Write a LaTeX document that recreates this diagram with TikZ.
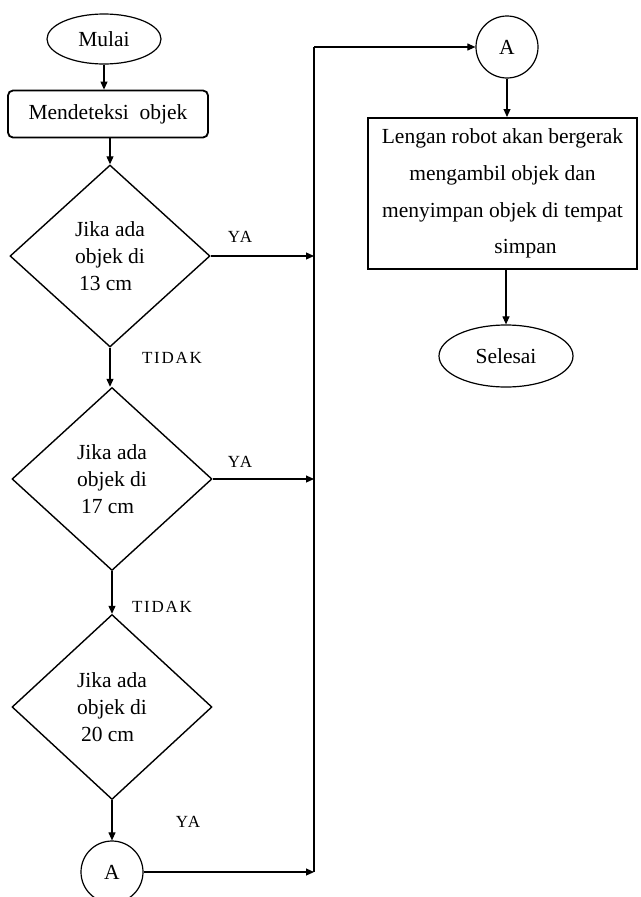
\documentclass[tikz,border=0pt]{standalone}
\usepackage{fontspec}
\setmainfont{Liberation Serif}
\usetikzlibrary{shapes.geometric,arrows.meta}
\begin{document}
\begin{tikzpicture}[x=1pt,y=-1pt,
  txt/.style={font=\fontsize{21.5}{27}\selectfont},
  term/.style={draw,ellipse,line width=1.2pt,inner sep=0pt,txt},
  procbox/.style={draw,rectangle,line width=1.8pt,inner sep=0pt,txt},
  decide/.style={draw,diamond,line width=1.4pt,inner sep=0pt,aspect=1.1,txt,align=left},
  conn/.style={draw,circle,line width=1.2pt,inner sep=0pt,minimum size=62pt,txt},
  lbl/.style={font=\fontsize{17}{20}\selectfont\addfontfeatures{LetterSpace=10}},
  arr/.style={line width=1.1pt,-{Triangle[length=8pt,width=7pt]}},
  ln/.style={line width=1.1pt}]
\useasboundingbox (0,0) rectangle (640,897);
\node[term,minimum width=114pt,minimum height=50pt] (mulai) at (104,39) {Mulai};
\node[procbox,rounded corners=5pt,minimum width=200pt,minimum height=47pt] (detect) at (108,114) {Mendeteksi\ \ objek};
\node[decide,minimum width=200pt,minimum height=182pt] (d1) at (110,256) {Jika ada\\objek di\\\hspace*{4pt}13 cm};
\node[decide,minimum width=200pt,minimum height=183pt] (d2) at (112,479) {Jika ada\\objek di\\\hspace*{4pt}17 cm};
\node[decide,minimum width=200pt,minimum height=185pt] (d3) at (112,707) {Jika ada\\objek di\\\hspace*{4pt}20 cm};
\node[conn] (ca2) at (112,872) {A};
\node[conn] (ca1) at (507,47) {A};
\node[procbox,line width=2pt,minimum width=269pt,minimum height=151pt,align=center,font=\fontsize{21.5}{36.7}\selectfont] (act) at (502.5,193.5) {Lengan robot akan bergerak\\mengambil objek dan\\menyimpan objek di tempat\\\hspace*{46pt}simpan};
\node[term,minimum width=134pt,minimum height=62pt] (selesai) at (506,356) {Selesai};
\coordinate (bustop) at (314,47);
\coordinate (busbot) at (314,872);
\node[lbl] (ya1) at (240,237) {YA};
\node[lbl] (ya2) at (240,462) {YA};
\node[lbl] (ya3) at (188,822) {YA};
\node[lbl] (t1) at (172,358) {TIDAK};
\node[lbl] (t2) at (162,607) {TIDAK};
\draw[arr] (mulai.south) -- (mulai.south |- detect.north);
\draw[arr] (d1.north |- detect.south) -- (d1.north);
\draw[arr] (d1.south) -- (d1.south |- d2.north);
\draw[arr] (d2.south) -- (d3.north);
\draw[arr] (d3.south) -- (ca2.north);
\draw[arr] (d1.east) -- (d1.east -| bustop);
\draw[arr] (d2.east) -- (d2.east -| bustop);
\draw[arr] (ca2.east) -- (busbot);
\draw[ln] (busbot) -- (bustop);
\draw[arr] (bustop) -- (ca1.west);
\draw[arr] (ca1.south) -- (ca1.south |- act.north);
\draw[arr] (act.south -| selesai.north) -- (selesai.north);
\end{tikzpicture}
\end{document}
